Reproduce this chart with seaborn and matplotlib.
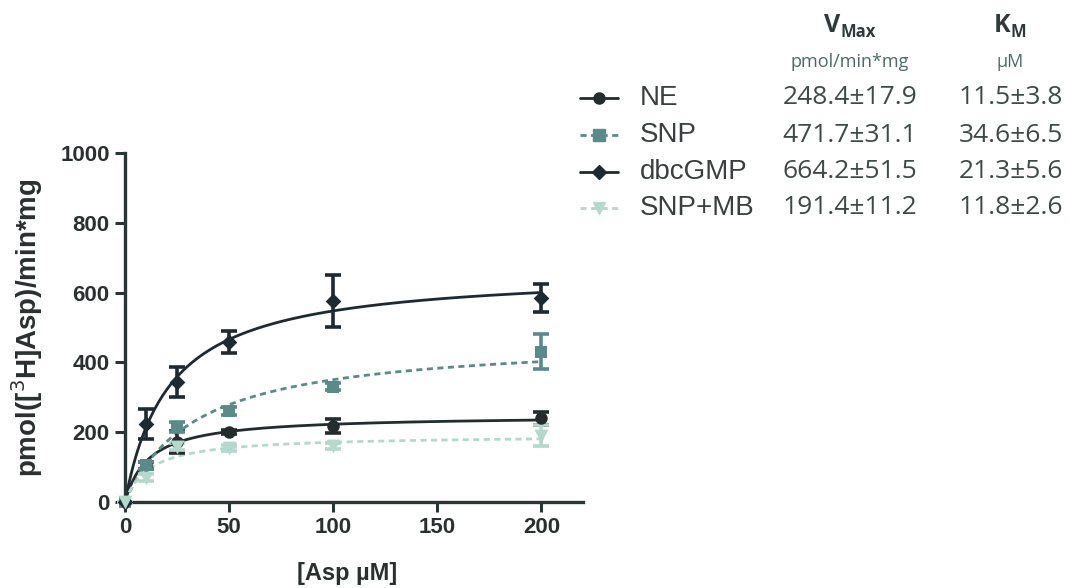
import numpy as np
import pandas as pd
import matplotlib
matplotlib.use("Agg")
import matplotlib.pyplot as plt
from matplotlib.lines import Line2D
import seaborn as sns

# data
asp = [0, 10, 25, 50, 100, 200]
groups = ["NE", "SNP", "dbcGMP", "SNP+MB"]
ne_mean = [0, 105, 172, 200, 218, 240]
ne_err = [0, 10, 32, 6, 20, 18]
snp_mean = [0, 105, 215, 260, 330, 430]
snp_err = [0, 10, 15, 12, 10, 50]
dbc_mean = [0, 224, 344, 458, 576, 585]
dbc_err = [0, 43, 42, 31, 75, 41]
mb_mean = [0, 70, 158, 155, 160, 190]
mb_err = [0, 10, 10, 8, 8, 30]

# fitted Michaelis-Menten parameters (table on the right)
vmax = [248.4, 471.7, 664.2, 191.4]
vmax_sd = [17.9, 31.1, 51.5, 11.2]
km = [11.5, 34.6, 21.3, 11.8]
km_sd = [3.8, 6.5, 5.6, 2.6]

means = [ne_mean, snp_mean, dbc_mean, mb_mean]
errs = [ne_err, snp_err, dbc_err, mb_err]
colors = ["#242c2e", "#5b8b88", "#1e2a32", "#b5d8cc"]
markers = ["o", "s", "D", "v"]
msizes = [9, 9, 8, 10]
dashes = ["-", (0, (2.2, 1.6)), "-", (0, (2.2, 1.6))]

sns.set_style("ticks")
plt.rcParams["font.family"] = ["Liberation Sans", "DejaVu Sans"]

fig = plt.figure(figsize=(10.7, 5.88), dpi=100)
ax = fig.add_axes([125 / 1070, 1 - 502 / 588, 458 / 1070, 349 / 588])

s = np.linspace(0, 200, 200)
for i, g in enumerate(groups):
    fit = pd.DataFrame({"x": s, "y": vmax[i] * s / (km[i] + s)})
    sns.lineplot(data=fit, x="x", y="y", ax=ax, color=colors[i], lw=2,
                 linestyle=dashes[i], zorder=2)
    ax.errorbar(asp, means[i], yerr=errs[i], fmt="none", ecolor=colors[i],
                elinewidth=2.6, capsize=6, capthick=2.6, zorder=3, clip_on=False)
    pts = pd.DataFrame({"x": asp, "y": means[i]})
    sns.scatterplot(data=pts, x="x", y="y", ax=ax, color=colors[i], marker=markers[i],
                    s=msizes[i] ** 2, edgecolor=colors[i], linewidth=0, zorder=4,
                    clip_on=False)

ax.set_xlim(0, 220)
ax.set_ylim(0, 1000)
ax.set_xticks([0, 50, 100, 150, 200])
ax.set_yticks([0, 200, 400, 600, 800, 1000])
sns.despine(ax=ax)
for sp in ["left", "bottom"]:
    ax.spines[sp].set_linewidth(2.4)
    ax.spines[sp].set_color("#2a3535")
ax.tick_params(width=2.2, length=7, color="#2a3535", labelsize=16, pad=4)
for lab in ax.get_xticklabels() + ax.get_yticklabels():
    lab.set_fontweight("bold")
    lab.set_color("#2a3030")
ax.set_xlabel("[Asp \u00b5M]", fontsize=17, fontweight="bold", color="#2a3030")
ax.xaxis.set_label_coords(0.485, -0.172)
ax.set_ylabel("pmol([$^3$H]Asp)/min*mg", fontsize=20, fontweight="bold", color="#2a3030")
ax.yaxis.set_label_coords(-0.175, 0.5)

# legend table
def px(x, y):
    return x / 1070, 1 - y / 588

rows_y = [98, 135, 172, 208]
for i, g in enumerate(groups):
    x0, y0 = px(580, rows_y[i])
    x1, _ = px(618, rows_y[i])
    fig.add_artist(Line2D([x0, x1], [y0, y0], transform=fig.transFigure, color=colors[i],
                          lw=2, linestyle=dashes[i]))
    fig.add_artist(Line2D([(x0 + x1) / 2], [y0], transform=fig.transFigure, color=colors[i],
                          marker=markers[i], ms=msizes[i] - 1, lw=0))
    fig.text(*px(640, rows_y[i]), g, fontsize=20, color="#3a3f40", va="center", ha="left")
    fig.text(*px(850, rows_y[i]), f"{vmax[i]}\u00b1{vmax_sd[i]}", fontsize=19,
             color="#3e4a48", va="center", ha="center", family="Open Sans")
    fig.text(*px(1011, rows_y[i]), f"{km[i]}\u00b1{km_sd[i]}", fontsize=19,
             color="#3e4a48", va="center", ha="center", family="Open Sans")

hdr = dict(fontweight="bold", color="#2e3b3a", va="center", family="Open Sans")
fig.text(*px(840, 26), "V", fontsize=18, ha="right", **hdr)
fig.text(*px(840, 32), "Max", fontsize=12, ha="left", **hdr)
fig.text(*px(850, 62), "pmol/min*mg", fontsize=13, color="#4c6b66", va="center", ha="center",
         family="Open Sans")
fig.text(*px(1010, 26), "K", fontsize=18, ha="right", **hdr)
fig.text(*px(1010, 32), "M", fontsize=12, ha="left", **hdr)
fig.text(*px(1010, 62), "\u00b5M", fontsize=13, color="#4c6b66", va="center", ha="center",
         family="Open Sans")

fig.savefig("out.png", dpi=100)
